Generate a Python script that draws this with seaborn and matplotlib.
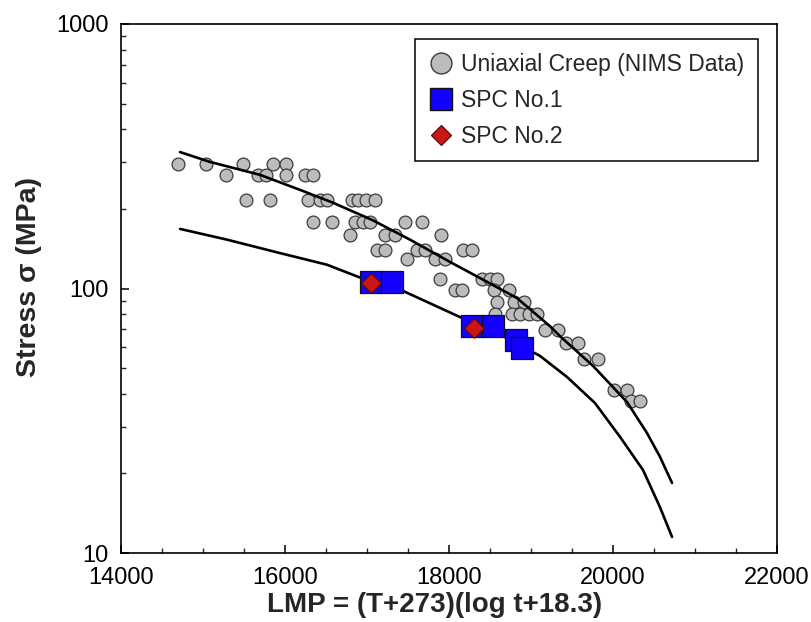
import matplotlib
matplotlib.use("Agg")
import matplotlib.pyplot as plt
from matplotlib.lines import Line2D
from matplotlib.ticker import FixedLocator, LogLocator, NullFormatter, MultipleLocator
import seaborn as sns
import pandas as pd

# ---- data ----
nims_lmp = [14700, 15040, 15490, 15850, 16010,
            15280, 15670, 15770, 16010, 16240, 16340,
            15520, 15820, 16280, 16430, 16510, 16820, 16890, 16990, 17100,
            16340, 16570, 16850, 16950, 17040, 17460, 17670,
            16790, 17220, 17340, 17900,
            17120, 17220, 17610, 17710, 18170, 18280,
            17490, 17830, 17950,
            17890, 18400, 18500, 18590,
            18070, 18160, 18550, 18730,
            18590, 18790, 18910,
            18560, 18770, 18870, 18980, 19070,
            19170, 19330,
            19430, 19570,
            19650, 19820,
            20010, 20170,
            20220, 20330]
nims_stress = [296, 296, 296, 296, 296,
               269, 269, 269, 269, 269, 269,
               216, 216, 216, 216, 216, 216, 216, 216, 216,
               178, 178, 178, 178, 178, 178, 178,
               159, 159, 159, 159,
               140, 140, 140, 140, 140, 140,
               129, 129, 129,
               109, 109, 109, 109,
               98.7, 98.7, 98.7, 98.7,
               88.9, 88.9, 88.9,
               80, 80, 80, 80, 80,
               69.7, 69.7,
               62.2, 62.2,
               54, 54,
               41.3, 41.3,
               37.6, 37.6]

spc1_lmp = [17050, 17300, 18280, 18540, 18820, 18890]
spc1_stress = [106, 106, 72, 72, 64, 59.4]

spc2_lmp = [17050, 18300]
spc2_stress = [105, 71]

upper_lmp = [14720, 15085, 15695, 16183, 16585, 17073, 17524, 18012, 18415,
             18829, 19232, 19354, 19756, 20171, 20415, 20573, 20720]
upper_stress = [328, 301, 269, 236, 211, 181, 153, 126, 108,
                92, 72, 66, 51, 37.2, 28.4, 23.1, 18.4]

lower_lmp = [14720, 15293, 15902, 16512, 16915, 17439, 18134, 18659, 19110,
             19439, 19780, 20085, 20366, 20573, 20720]
lower_stress = [168, 153, 137, 123, 110, 97.9, 78, 66.1, 55.6,
                46.3, 36.9, 27.5, 20.6, 14.9, 11.5]

legend_labels = ["Uniaxial Creep (NIMS Data)", "SPC No.1", "SPC No.2"]
x_ticks = [14000, 16000, 18000, 20000, 22000]
y_ticks = [10, 100, 1000]

# ---- plot ----
sns.set_style("ticks")
plt.rcParams["font.family"] = ["Liberation Sans", "DejaVu Sans"]

fig = plt.figure(figsize=(8.11, 6.22), dpi=100)
ax = fig.add_axes([121 / 811, 69 / 622, 656 / 811, 529 / 622])

df_n = pd.DataFrame({"LMP": nims_lmp, "Stress": nims_stress})
df_1 = pd.DataFrame({"LMP": spc1_lmp, "Stress": spc1_stress})
df_2 = pd.DataFrame({"LMP": spc2_lmp, "Stress": spc2_stress})
df_u = pd.DataFrame({"LMP": upper_lmp, "Stress": upper_stress})
df_l = pd.DataFrame({"LMP": lower_lmp, "Stress": lower_stress})

sns.lineplot(data=df_u, x="LMP", y="Stress", sort=False, estimator=None,
             color="black", linewidth=1.9, ax=ax, zorder=3)
sns.lineplot(data=df_l, x="LMP", y="Stress", sort=False, estimator=None,
             color="black", linewidth=1.9, ax=ax, zorder=3)
sns.scatterplot(data=df_n, x="LMP", y="Stress", marker="o", s=85,
                color="#bcbcbc", edgecolor="#3c3c3c", linewidth=0.9, ax=ax, zorder=2)
sns.scatterplot(data=df_1, x="LMP", y="Stress", marker="s", s=250,
                color="#1400ff", edgecolor="#111111", linewidth=0.9, ax=ax, zorder=4)
sns.scatterplot(data=df_2, x="LMP", y="Stress", marker="D", s=100,
                color="#cc1515", edgecolor="#5a0a0a", linewidth=0.8, ax=ax, zorder=5)

ax.set_yscale("log")
ax.set_xlim(14000, 22000)
ax.set_ylim(10, 1000)
ax.xaxis.set_major_locator(FixedLocator(x_ticks))
ax.xaxis.set_minor_locator(MultipleLocator(500))
ax.yaxis.set_major_locator(FixedLocator(y_ticks))
ax.yaxis.set_minor_locator(LogLocator(base=10, subs=range(2, 10)))
ax.yaxis.set_minor_formatter(NullFormatter())
ax.set_xticklabels([str(t) for t in x_ticks])
ax.set_yticklabels([str(t) for t in y_ticks])

for sp in ax.spines.values():
    sp.set_visible(True)
    sp.set_linewidth(1.2)
    sp.set_color("black")

ax.tick_params(which="major", direction="in", length=6, width=1.1,
               labelsize=17, colors="black")
ax.tick_params(axis="x", which="major", pad=10)
ax.tick_params(axis="y", which="major", pad=9)
ax.tick_params(which="minor", direction="in", length=3.5, width=1.0)
ax.tick_params(top=False, right=False, which="both")

ax.set_xlabel("LMP = (T+273)(log t+18.3)", fontsize=20, fontweight="bold")
ax.set_ylabel("Stress σ (MPa)", fontsize=20.5, fontweight="bold")
ax.xaxis.set_label_coords(0.478, -0.074)
ax.yaxis.set_label_coords(-0.121, 0.522)

handles = [
    Line2D([], [], linestyle="none", marker="o", markersize=15,
           markerfacecolor="#bcbcbc", markeredgecolor="#3c3c3c", markeredgewidth=1.0),
    Line2D([], [], linestyle="none", marker="s", markersize=16,
           markerfacecolor="#1400ff", markeredgecolor="#111111", markeredgewidth=1.0),
    Line2D([], [], linestyle="none", marker="D", markersize=10.5,
           markerfacecolor="#cc1515", markeredgecolor="#5a0a0a", markeredgewidth=0.9),
]
leg = ax.legend(handles, legend_labels, loc="upper right",
                bbox_to_anchor=(0.971, 0.972), borderaxespad=0,
                fontsize=16.5, frameon=True, fancybox=False, framealpha=1,
                edgecolor="black", borderpad=0.6, handlelength=1.06,
                handletextpad=0.34, labelspacing=0.57)
leg.get_frame().set_linewidth(1.1)

fig.savefig("out.png", dpi=100)
